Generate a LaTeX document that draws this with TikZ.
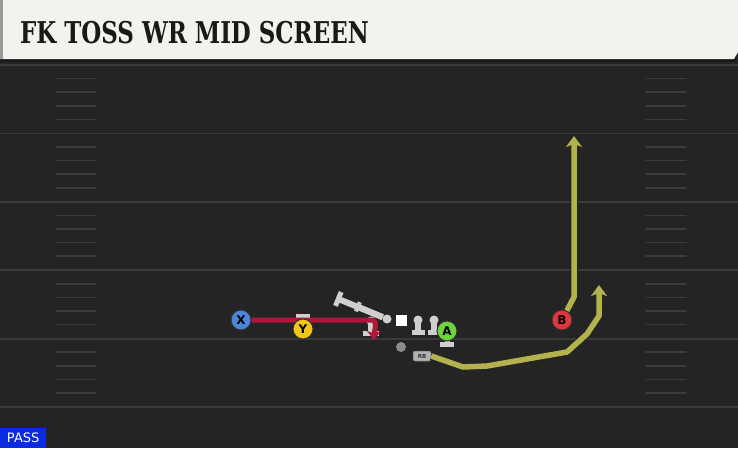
\documentclass[tikz,border=0pt]{standalone}
\usepackage{fontspec}
\usepackage{tikz}
\usetikzlibrary{arrows.meta}
\newfontfamily\titlefont{DejaVu Serif Condensed}[FakeStretch=0.85]
\newfontfamily\iconfont{DejaVu Sans}
\definecolor{fieldbg}{HTML}{242424}
\definecolor{headbg}{HTML}{F4F2EC}
\definecolor{linegray}{HTML}{3A3A3A}
\definecolor{hashgray}{HTML}{3C3C3C}
\definecolor{pawngray}{HTML}{CFCFCF}
\definecolor{routeyellow}{HTML}{B4B24C}
\definecolor{routered}{HTML}{B0163A}
\definecolor{xblue}{HTML}{4A86DB}
\definecolor{yyellow}{HTML}{F2C619}
\definecolor{agreen}{HTML}{6FD33C}
\definecolor{bred}{HTML}{E2363F}
\definecolor{passblue}{HTML}{0A2BE0}

\begin{document}
\begin{tikzpicture}[x=1pt,y=-1pt]
    \tikzstyle{player}=[circle,draw=black!80,line width=1pt,minimum size=20pt,inner sep=0pt,font=\iconfont\bfseries\fontsize{12}{12}\selectfont]
    \tikzstyle{yard}=[draw=linegray,line width=1.8pt]
    \tikzstyle{hash}=[draw=hashgray,line width=1.5pt,line cap=round]
    \tikzstyle{yroute}=[draw=routeyellow,line width=5.5pt,line join=round,-{Stealth[length=11pt,width=16pt,inset=3pt]},preaction={draw=black!85,line width=8pt}]
    \tikzstyle{rroute}=[draw=routered,line width=5pt,-{Stealth[length=9pt,width=14pt,inset=2.5pt]}]
    \tikzstyle{block}=[draw=pawngray,line width=6pt,-{Bar[width=15pt,line width=5pt]}]
    \tikzstyle{head}=[circle,fill=pawngray,minimum size=9pt,inner sep=0pt]

    % Field
    \fill[fieldbg] (0,0) rectangle (738,448);
    \useasboundingbox (0,0) rectangle (738,448);
    \foreach \i in {0,...,5}
        \draw[yard] (0,{65+68.4*\i}) -- (738,{65+68.4*\i});
    \foreach \i in {0,...,4}
        \foreach \k in {1,...,4} {
            \draw[hash] (56,{65+68.4*\i+13.6*\k}) -- (96,{65+68.4*\i+13.6*\k});
            \draw[hash] (646,{65+68.4*\i+13.6*\k}) -- (686,{65+68.4*\i+13.6*\k});
        }

    % Header
    \fill[black!90] (0,0) rectangle (736,62);
    \fill[headbg] (0,0) -- (738,0) -- (738,52) -- (734,59) -- (0,59) -- cycle;
    \fill[black!40] (0,0) rectangle (3,59);
    \node (title) [anchor=base west,inner sep=0pt,text=black!90,font=\titlefont\bfseries\fontsize{30}{30}\selectfont] at (20,43) {FK TOSS WR MID SCREEN};

    % Line
    \node [head] (LT) at (371,321) {};
    \node [head] (LG) at (387,319) {};
    \draw[block] (LG) -- (336,298);
    \draw[block,-{Bar[width=10pt,line width=4pt]}] (LG) -- (356,306);
    \fill[pawngray] (368,321) rectangle (374,332);
    \fill[pawngray] (363,331) rectangle (379,336);
    \foreach \x in {418,434} {
        \fill[pawngray] (\x,320) circle (4.5);
        \fill[pawngray] ({\x-3},320) rectangle ({\x+3},331);
        \fill[pawngray] ({\x-6.5},330) rectangle ({\x+6.5},334.5);
    }
    \node [rectangle,fill=white,minimum size=11pt,inner sep=0pt] (C) at (401,320) {};
    \node [circle,fill=black!45,minimum size=10pt,inner sep=0pt] (QB) at (401,347) {};
    \node [rectangle,rounded corners=2pt,fill=black!30,draw=black!60,line width=0.5pt,minimum width=18pt,minimum height=10pt,inner sep=0pt,font=\iconfont\bfseries\fontsize{5.5}{5.5}\selectfont,text=black!80] (RB) at (422,356) {RB};

    % Receivers
    \fill[pawngray] (296,314) rectangle (310,318.5);
    \fill[pawngray] (300.5,317) rectangle (305.5,322);
    \fill[pawngray] (440,342) rectangle (454,346.5);
    \fill[pawngray] (444.5,338) rectangle (449.5,343);

    \coordinate (rturn) at (371,320);
    \coordinate (rend) at (374,340);
    \node [player,fill=xblue] (X) at (241,320) {X};
    \draw[rroute] (X.east) -- (rturn) to[out=0,in=90] (rend);
    \node [player,fill=yyellow] (Y) at (303,329) {Y};
    \node [player,fill=agreen] (A) at (447,331) {A};
    \node [player,fill=bred] (B) at (562,320) {B};

    % Routes
    \coordinate (bturn) at (574,297);
    \coordinate (bend) at (574,136);
    \draw[yroute] (B) -- (bturn) -- (bend);
    \coordinate (s1) at (463,367);
    \coordinate (s2) at (487,366);
    \coordinate (s3) at (567,352);
    \coordinate (s4) at (587,334);
    \coordinate (s5) at (599,316);
    \coordinate (send) at (599,285);
    \draw[yroute] (RB.east) -- (s1) -- (s2) -- (s3) -- (s4) -- (s5) -- (send);

    % Play type
    \node (pass) [anchor=south west,fill=passblue,text=white,minimum width=46pt,minimum height=20pt,inner sep=0pt,font=\iconfont\fontsize{13}{13}\selectfont] at (0,448) {PASS};
\end{tikzpicture}
\end{document}
